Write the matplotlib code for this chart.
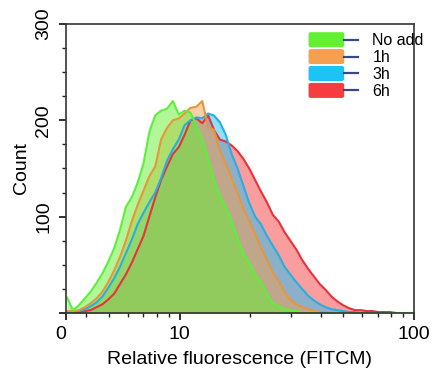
import numpy as np
import matplotlib
matplotlib.use("Agg")
import matplotlib.pyplot as plt
import matplotlib.transforms as mtransforms
from matplotlib.patches import Patch, FancyBboxPatch
from matplotlib.lines import Line2D
from matplotlib.legend_handler import HandlerBase
from matplotlib.ticker import FixedLocator, NullFormatter

plt.rcParams['font.family'] = ['Liberation Sans', 'DejaVu Sans']

# channel grid (log spaced, 60 channels from ~3.3 to 100)
channels = np.logspace(0.52, 2.0, 60)

no_add = [16, 3, 8, 15, 22, 31, 41, 53, 67, 86,
          110, 120, 135, 155, 188, 205, 210, 212, 220, 206,
          210, 208, 195, 180, 160, 138, 122, 110, 95, 78,
          62, 52, 40, 32, 20, 10, 7, 4, 3, 2,
          1, 1, 1, 0, 0, 0, 0, 0, 0, 0,
          0, 0, 0, 0, 0, 0, 0, 0, 0, 0]
h1 = [2, 2, 3, 6, 10, 15, 22, 32, 44, 58,
      75, 95, 112, 127, 142, 152, 180, 192, 200, 202,
      207, 213, 214, 220, 193, 190, 168, 155, 140, 125,
      108, 95, 82, 68, 55, 42, 33, 22, 14, 9,
      6, 4, 2, 1, 1, 0, 0, 0, 0, 0,
      0, 0, 0, 0, 0, 0, 0, 0, 0, 0]
h3 = [1, 1, 2, 4, 7, 11, 17, 26, 36, 48,
      62, 76, 92, 104, 115, 125, 140, 158, 170, 180,
      195, 200, 203, 202, 207, 205, 198, 185, 165, 150,
      132, 114, 100, 92, 80, 70, 60, 48, 40, 32,
      25, 18, 13, 9, 6, 4, 3, 2, 1, 1,
      0, 0, 0, 0, 0, 0, 0, 0, 0, 0]
h6 = [0, 1, 1, 2, 3, 6, 9, 14, 20, 30,
      40, 52, 66, 80, 100, 120, 138, 152, 165, 172,
      185, 200, 202, 197, 205, 190, 180, 178, 174, 168,
      160, 150, 138, 126, 115, 102, 95, 84, 75, 66,
      55, 46, 38, 30, 24, 17, 12, 8, 5, 3,
      3, 2, 2, 1, 1, 1, 0, 0, 0, 0]

labels = ["No add", "1h", "3h", "6h"]
fills = ["#64f032", "#f5a050", "#1ec3f5", "#f53c41"]
edges = ["#5cf03a", "#e8963c", "#28aee0", "#e8323c"]
series = [no_add, h1, h3, h6]


class PatchDash(HandlerBase):
    def create_artists(self, legend, orig, xd, yd, w, h, fontsize, trans):
        box = FancyBboxPatch((-xd, -yd - 1), w * 0.72, h + 2,
                             boxstyle="round,pad=0,rounding_size=1.5",
                             fc=orig.get_facecolor(), ec="none", transform=trans)
        dash = Line2D([-xd + w * 0.72, -xd + w], [-yd + h / 2] * 2,
                      color="#3a4a80", lw=1.6, transform=trans)
        return [box, dash]


fig = plt.figure(figsize=(4.32, 3.74), dpi=100)
ax = fig.add_axes([0.153, 0.163, 0.805, 0.773])

# draw back to front: 6h, 3h, 1h, No add
for i in [3, 2, 1, 0]:
    ax.fill_between(channels, series[i], 0, color=fills[i], alpha=0.5, lw=0)
    ax.plot(channels, series[i], color=edges[i], lw=1.5)

ax.set_xscale("log")
ax.set_xlim(3.28, 100)
ax.set_ylim(0, 300)

ax.xaxis.set_major_locator(FixedLocator([3.28, 10, 100]))
ax.set_xticklabels(["0", "10", "100"])
ax.xaxis.set_minor_locator(FixedLocator([4, 5, 6, 7, 8, 9, 20, 30, 40, 50, 60, 70, 80, 90]))
ax.xaxis.set_minor_formatter(NullFormatter())
ax.set_yticks([0, 100, 200, 300])
ax.set_yticklabels(["", "100", "200", "300"], rotation=90, va="center")
ax.yaxis.set_minor_locator(FixedLocator(np.arange(25, 300, 25)))

ax.tick_params(which="major", direction="out", length=5, width=1.3, labelsize=14, color="#222222")
ax.tick_params(which="minor", direction="out", length=3, width=1.0, color="#222222")
ax.tick_params(axis="x", pad=4)
ax.tick_params(axis="y", pad=5)
for s in ax.spines.values():
    s.set_color("#333333")
    s.set_linewidth(1.2)

# nudge the "0" label a little to the left, as in the original
zero = ax.get_xticklabels()[0]
zero.set_transform(zero.get_transform() + mtransforms.ScaledTranslation(-5 / 100, 0, fig.dpi_scale_trans))

ax.set_xlabel("Relative fluorescence (FITCM)", fontsize=14, labelpad=6)
ax.set_ylabel("Count", fontsize=14, labelpad=4)

handles = [Patch(facecolor=c) for c in fills]
leg = ax.legend(handles, labels, handler_map={Patch: PatchDash()},
                loc="upper right", bbox_to_anchor=(1.047, 0.99), frameon=False,
                fontsize=11.5, handlelength=3.1, handleheight=0.8,
                labelspacing=0.12, handletextpad=0.9, borderaxespad=0.0)

fig.savefig("out.png", dpi=100)
